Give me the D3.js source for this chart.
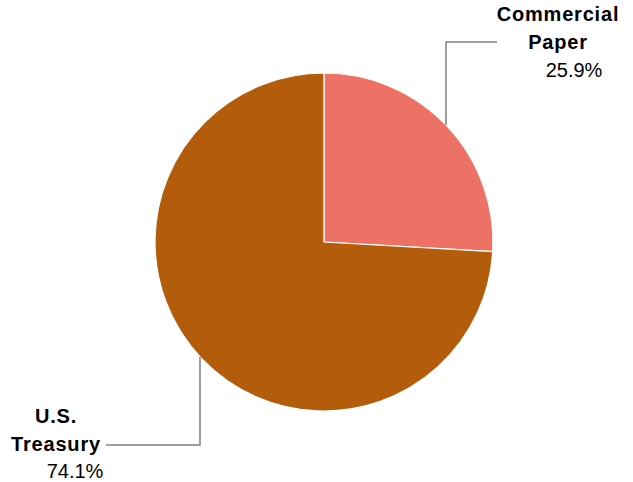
<!DOCTYPE html>
<html>
<head>
<meta charset="utf-8">
<script src="https://cdn.jsdelivr.net/npm/d3@7"></script>
<style>
  body { margin: 0; background: #fff; }
  text { font-family: "Liberation Sans", Arial, sans-serif; fill: #000; }
</style>
</head>
<body>
<svg id="chart"></svg>
<script>
// chart data
const categories = ["Commercial Paper", "U.S. Treasury"];
const shares = [25.9, 74.1];
const labelLines = [["Commercial", "Paper"], ["U.S.", "Treasury"]];
const colors = ["#ED7265", "#B35C0B"];

const width = 633, height = 482;
const cx = 324, cy = 242, radius = 169;

const svg = d3.select("#chart")
  .attr("width", width)
  .attr("height", height);

const g = svg.append("g")
  .attr("transform", "translate(" + cx + "," + cy + ")");

const pie = d3.pie().sort(null).value(d => d)(shares);
const arc = d3.arc().innerRadius(0).outerRadius(radius);

g.selectAll("path")
  .data(pie)
  .enter().append("path")
  .attr("d", arc)
  .attr("fill", (d, i) => colors[i])
  .attr("stroke", "#fff")
  .attr("stroke-width", 1.2);

// leader lines: vertical from the rim, then horizontal to the label
const leaders = [
  {lx: 446 - cx, ey: 42 - cy, ex: 497 - cx, tx: 558, ty: 21, px: 574, gap: 28},
  {lx: 200 - cx, ey: 445 - cy, ex: 106 - cx, tx: 56, ty: 423, px: 75, gap: 27.5}
];

leaders.forEach((L, i) => {
  const dy = Math.sqrt(radius * radius - L.lx * L.lx);
  const rimY = L.ey < 0 ? -dy : dy;
  g.append("path")
    .attr("d", d3.line()([[L.lx, rimY], [L.lx, L.ey], [L.ex, L.ey]]))
    .attr("fill", "none")
    .attr("stroke", "#808080")
    .attr("stroke-width", 1.5);

  const t = svg.append("g");
  labelLines[i].forEach((s, j) => {
    t.append("text")
      .attr("x", L.tx)
      .attr("y", L.ty + j * L.gap)
      .attr("text-anchor", "middle")
      .style("font-size", "20px")
      .style("font-weight", "bold")
      .style("letter-spacing", "0.8px")
      .text(s);
  });
  t.append("text")
    .attr("x", L.px)
    .attr("y", L.ty + 2 * L.gap)
    .attr("text-anchor", "middle")
    .style("font-size", "20px")
    .text(shares[i].toFixed(1) + "%");
});
</script>
</body>
</html>
